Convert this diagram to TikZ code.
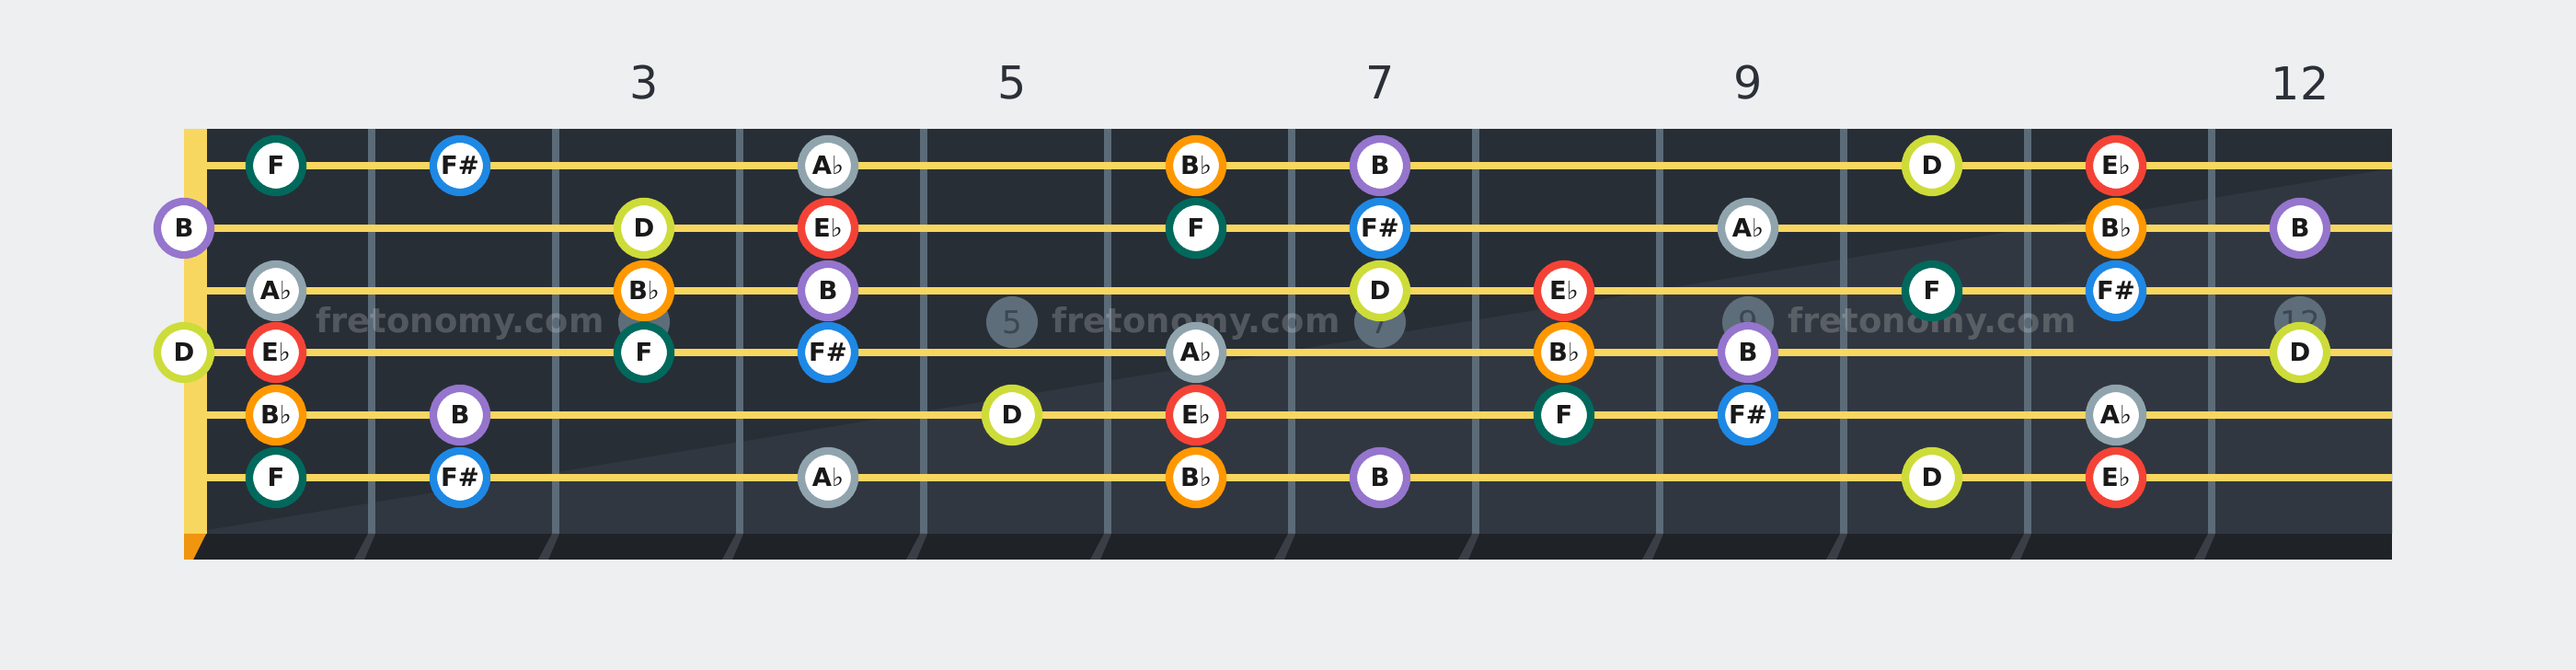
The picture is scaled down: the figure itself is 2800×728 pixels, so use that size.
\documentclass[tikz,border=0pt]{standalone}
\usepackage{fontspec}
\setmainfont{DejaVu Sans}
\definecolor{bgcol}{HTML}{EDEFF1}
\definecolor{boardtop}{HTML}{282E36}
\definecolor{boardlow}{HTML}{313740}
\definecolor{boardfoot}{HTML}{1F2328}
\definecolor{fretcol}{HTML}{5C6B78}
\definecolor{tickcol}{HTML}{3A3F46}
\definecolor{stringcol}{HTML}{F8D760}
\definecolor{nutfoot}{HTML}{F0950F}
\definecolor{labelcol}{HTML}{2B3038}
\definecolor{markcol}{HTML}{5D6D7A}
\definecolor{marktext}{HTML}{3C4752}
\definecolor{cF}{HTML}{00695C}
\definecolor{cFs}{HTML}{1E88E5}
\definecolor{cAb}{HTML}{90A4AE}
\definecolor{cBb}{HTML}{FF9800}
\definecolor{cB}{HTML}{9575CD}
\definecolor{cD}{HTML}{CDDC39}
\definecolor{cEb}{HTML}{F44336}
\newcommand{\flt}{{\mdseries ♭}}

\begin{document}
\begin{tikzpicture}[x=0.01cm,y=-0.01cm,
  note/.style={circle,draw,fill=white,line width=0.083cm,minimum size=0.58cm,inner sep=0pt,
    text=black!90,font=\bfseries\fontsize{7.8}{8}\selectfont},
  nF/.style={note,draw=cF}, nFs/.style={note,draw=cFs}, nAb/.style={note,draw=cAb},
  nBb/.style={note,draw=cBb}, nB/.style={note,draw=cB}, nD/.style={note,draw=cD},
  nEb/.style={note,draw=cEb},
  fretnum/.style={text=labelcol,font=\fontsize{14}{16}\selectfont},
  marker/.style={circle,fill=markcol,minimum size=0.56cm,inner sep=0pt,text=marktext,
    font=\fontsize{9.7}{11}\selectfont},
  marktxt/.style={anchor=base,text=white,text opacity=0.2,font=\bfseries\fontsize{10.5}{12}\selectfont},
  wire/.style={stringcol,line width=0.08cm}]
  \fill[bgcol] (0,0) rectangle (2800,728);
  % board
  \fill[boardtop] (225,140) rectangle (2600,580);
  \fill[boardlow] (225,576) -- (2600,183) -- (2600,580) -- (225,580) -- cycle;
  \fill[boardfoot] (200,580) rectangle (2600,608);
  \fill[stringcol] (200,140) rectangle (225,580);
  \fill[nutfoot] (200,580) -- (224,580) -- (210,608) -- (200,608) -- cycle;
  \draw[fretcol,line width=0.08cm] (404,140) -- (404,580) (604,140) -- (604,580) (804,140) -- (804,580)
    (1004,140) -- (1004,580) (1204,140) -- (1204,580) (1404,140) -- (1404,580) (1604,140) -- (1604,580)
    (1804,140) -- (1804,580) (2004,140) -- (2004,580) (2204,140) -- (2204,580) (2404,140) -- (2404,580);
  \fill[tickcol] (400,580) -- ++(8,0) -- ++(-12,28) -- ++(-11,0) -- cycle
    (600,580) -- ++(8,0) -- ++(-12,28) -- ++(-11,0) -- cycle (800,580) -- ++(8,0) -- ++(-12,28) -- ++(-11,0) -- cycle
    (1000,580) -- ++(8,0) -- ++(-12,28) -- ++(-11,0) -- cycle (1200,580) -- ++(8,0) -- ++(-12,28) -- ++(-11,0) -- cycle
    (1400,580) -- ++(8,0) -- ++(-12,28) -- ++(-11,0) -- cycle (1600,580) -- ++(8,0) -- ++(-12,28) -- ++(-11,0) -- cycle
    (1800,580) -- ++(8,0) -- ++(-12,28) -- ++(-11,0) -- cycle (2000,580) -- ++(8,0) -- ++(-12,28) -- ++(-11,0) -- cycle
    (2200,580) -- ++(8,0) -- ++(-12,28) -- ++(-11,0) -- cycle (2400,580) -- ++(8,0) -- ++(-12,28) -- ++(-11,0) -- cycle;
  % strings
  \draw[wire] (225,180) -- (2600,180);
  \draw[wire] (225,248) -- (2600,248);
  \draw[wire] (225,316) -- (2600,316);
  \draw[wire] (225,383) -- (2600,383);
  \draw[wire] (225,451) -- (2600,451);
  \draw[wire] (225,519) -- (2600,519);
  % fret numbers and inlays
  \node[fretnum] (n3)  at (700,90)  {3};
  \node[fretnum] (n5)  at (1100,90) {5};
  \node[fretnum] (n7)  at (1500,90) {7};
  \node[fretnum] (n9)  at (1900,90) {9};
  \node[fretnum] (n12) at (2500,90) {12};
  \node[marker] (m3)  at (700,350)  {3};
  \node[marker] (m5)  at (1100,350) {5};
  \node[marker] (m7)  at (1500,350) {7};
  \node[marker] (m9)  at (1900,350) {9};
  \node[marker] (m12) at (2500,350) {12};
  \node[marktxt] (w1) at (500,362)  {fretonomy.com};
  \node[marktxt] (w2) at (1300,362) {fretonomy.com};
  \node[marktxt] (w3) at (2100,362) {fretonomy.com};
  % string 1
  \node[nF]  (s1a) at (300,180)  {F};
  \node[nFs] (s1b) at (500,180)  {F\#};
  \node[nAb] (s1c) at (900,180)  {A\flt};
  \node[nBb] (s1d) at (1300,180) {B\flt};
  \node[nB]  (s1e) at (1500,180) {B};
  \node[nD]  (s1f) at (2100,180) {D};
  \node[nEb] (s1g) at (2300,180) {E\flt};
  % string 2
  \node[nB]  (s2a) at (200,248)  {B};
  \node[nD]  (s2b) at (700,248)  {D};
  \node[nEb] (s2c) at (900,248)  {E\flt};
  \node[nF]  (s2d) at (1300,248) {F};
  \node[nFs] (s2e) at (1500,248) {F\#};
  \node[nAb] (s2f) at (1900,248) {A\flt};
  \node[nBb] (s2g) at (2300,248) {B\flt};
  \node[nB]  (s2h) at (2500,248) {B};
  % string 3
  \node[nAb] (s3a) at (300,316)  {A\flt};
  \node[nBb] (s3b) at (700,316)  {B\flt};
  \node[nB]  (s3c) at (900,316)  {B};
  \node[nD]  (s3d) at (1500,316) {D};
  \node[nEb] (s3e) at (1700,316) {E\flt};
  \node[nF]  (s3f) at (2100,316) {F};
  \node[nFs] (s3g) at (2300,316) {F\#};
  % string 4
  \node[nD]  (s4a) at (200,383)  {D};
  \node[nEb] (s4b) at (300,383)  {E\flt};
  \node[nF]  (s4c) at (700,383)  {F};
  \node[nFs] (s4d) at (900,383)  {F\#};
  \node[nAb] (s4e) at (1300,383) {A\flt};
  \node[nBb] (s4f) at (1700,383) {B\flt};
  \node[nB]  (s4g) at (1900,383) {B};
  \node[nD]  (s4h) at (2500,383) {D};
  % string 5
  \node[nBb] (s5a) at (300,451)  {B\flt};
  \node[nB]  (s5b) at (500,451)  {B};
  \node[nD]  (s5c) at (1100,451) {D};
  \node[nEb] (s5d) at (1300,451) {E\flt};
  \node[nF]  (s5e) at (1700,451) {F};
  \node[nFs] (s5f) at (1900,451) {F\#};
  \node[nAb] (s5g) at (2300,451) {A\flt};
  % string 6
  \node[nF]  (s6a) at (300,519)  {F};
  \node[nFs] (s6b) at (500,519)  {F\#};
  \node[nAb] (s6c) at (900,519)  {A\flt};
  \node[nBb] (s6d) at (1300,519) {B\flt};
  \node[nB]  (s6e) at (1500,519) {B};
  \node[nD]  (s6f) at (2100,519) {D};
  \node[nEb] (s6g) at (2300,519) {E\flt};
\end{tikzpicture}
\end{document}
